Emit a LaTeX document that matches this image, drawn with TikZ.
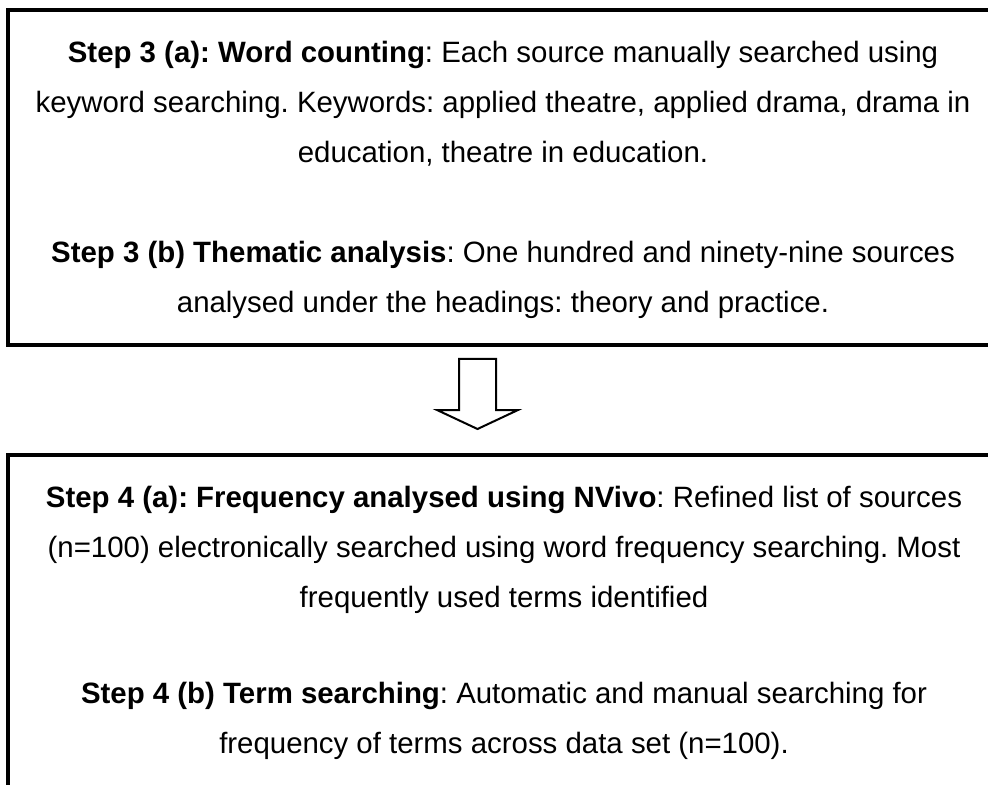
\documentclass[tikz,border=0pt]{standalone}
\usepackage{fontspec}
\setmainfont{Liberation Sans}
\usepackage{xcolor}
\frenchspacing

\tikzset{
  steptext/.style={align=center, anchor=base, inner sep=0pt,
    font=\fontsize{14.7}{25}\selectfont},
  stepframe/.style={draw=black, line width=1.6pt},
}

\begin{document}
\begin{tikzpicture}[x=0.5pt, y=-0.5pt]
    \useasboundingbox (0,0) rectangle (988,785);
    \clip (0,0) rectangle (988,785);

    % frames
    \draw[stepframe] (8,10) rectangle (998,345);
    \draw[stepframe] (8,455) rectangle (998,800);

    % step 3 (base = last line)
    \node[steptext] (s3a) at (503,163) {\textbf{Step 3 (a): Word counting}: Each source manually searched using\\
      keyword searching. Keywords: applied theatre, applied drama, drama in\\
      education, theatre in education.};
    \node[steptext] (s3b) at (503,313) {\textbf{Step 3 (b) Thematic analysis}: One hundred and ninety-nine sources\\
      analysed under the headings: theory and practice.};

    % block arrow
    \draw[line width=1pt, fill=white] (459,359) -- (496,359) -- (496,410) -- (518,410)
      -- (477.5,429) -- (437,410) -- (459,410) -- cycle;

    % step 4
    \node[steptext] (s4a) at (504,607) {\textbf{Step 4 (a): Frequency analysed using NVivo}: Refined list of sources\\
      (n=100) electronically searched using word frequency searching. Most\\
      frequently used terms identified};
    \node[steptext] (s4b) at (504,753) {\textbf{Step 4 (b) Term searching}: Automatic and manual searching for\\
      frequency of terms across data set (n=100).};

    % \draw[help lines, step=50] (0,0) grid (988,785);
\end{tikzpicture}
\end{document}
